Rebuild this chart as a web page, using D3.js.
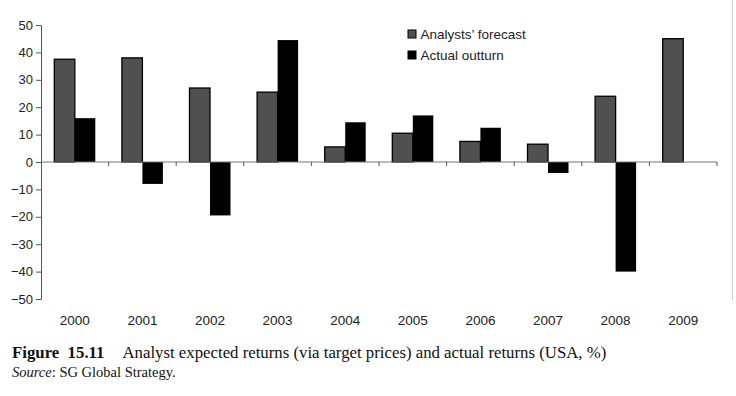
<!DOCTYPE html>
<html>
<head>
<meta charset="utf-8">
<script src="https://cdn.jsdelivr.net/npm/d3@7"></script>
<style>
  body { margin: 0; background: #fff; }
  svg { display: block; }
</style>
</head>
<body>
<svg id="chart"></svg>
<script>
const years = ["2000", "2001", "2002", "2003", "2004", "2005", "2006", "2007", "2008", "2009"];
const forecast = [37.5, 38, 27, 25.5, 5.5, 10.5, 7.5, 6.5, 24, 45];
const actual = [16, -8, -19.5, 44.5, 14.5, 17, 12.5, -4, -40, null];
const yTicks = [50, 40, 30, 20, 10, 0, -10, -20, -30, -40, -50];
const seriesNames = ["Analysts\u2019 forecast", "Actual outturn"];

const W = 736, H = 396;
const svg = d3.select("#chart").attr("width", W).attr("height", H);

const x = d3.scaleBand().domain(years).range([41, 717]);
const y = d3.scaleLinear().domain([-50, 50]).range([299, 25]);
const barW = 20.5;
const sans = "Liberation Sans, Arial, sans-serif";
const serif = "Liberation Serif, Times New Roman, serif";

const rows = years.map((yr, i) => ({ year: yr, f: forecast[i], a: actual[i] }));

// bars
svg.selectAll(".fc").data(rows).join("rect")
  .attr("class", "fc")
  .attr("x", d => x(d.year) + x.bandwidth() / 2 - barW)
  .attr("y", d => y(Math.max(0, d.f)))
  .attr("width", barW)
  .attr("height", d => Math.abs(y(d.f) - y(0)))
  .attr("fill", "#505050")
  .attr("stroke", "#000")
  .attr("stroke-width", 1.3);

svg.selectAll(".ac").data(rows.filter(d => d.a != null)).join("rect")
  .attr("class", "ac")
  .attr("x", d => x(d.year) + x.bandwidth() / 2)
  .attr("y", d => y(Math.max(0, d.a)))
  .attr("width", barW)
  .attr("height", d => Math.abs(y(d.a) - y(0)))
  .attr("fill", "#000");

// y axis
const yAxis = svg.append("g")
  .attr("transform", "translate(41,0)")
  .call(d3.axisLeft(y).tickValues(yTicks).tickSize(5).tickPadding(3).tickSizeOuter(0));
yAxis.select(".domain").attr("stroke", "#555");
yAxis.selectAll(".tick line").attr("stroke", "#555");
yAxis.selectAll("text")
  .attr("font-family", sans)
  .attr("font-size", 13)
  .attr("fill", "#222");

// zero line with category boundary ticks
svg.append("line")
  .attr("x1", 41).attr("x2", 717)
  .attr("y1", y(0)).attr("y2", y(0))
  .attr("stroke", "#777").attr("stroke-width", 1.2);
svg.selectAll(".xt").data(years).join("line")
  .attr("class", "xt")
  .attr("x1", d => x(d) + x.bandwidth()).attr("x2", d => x(d) + x.bandwidth())
  .attr("y1", y(0)).attr("y2", y(0) + 4)
  .attr("stroke", "#555");

// year labels
svg.selectAll(".yr").data(years).join("text")
  .attr("class", "yr")
  .attr("x", d => x(d) + x.bandwidth() / 2)
  .attr("y", 325)
  .attr("text-anchor", "middle")
  .attr("font-family", sans)
  .attr("font-size", 13.5)
  .attr("fill", "#222")
  .text(d => d);

// legend
const leg = svg.append("g").attr("transform", "translate(408,30)");
seriesNames.forEach((name, i) => {
  const g = leg.append("g").attr("transform", `translate(0,${i * 21})`);
  g.append("rect").attr("width", 8).attr("height", 8)
    .attr("fill", i === 0 ? "#505050" : "#000")
    .attr("stroke", "#000").attr("stroke-width", 1);
  g.append("text").attr("x", 12.5).attr("y", 8.5)
    .attr("font-family", sans)
    .attr("font-size", 13.5)
    .attr("fill", "#222")
    .text(name);
});

// right border line
svg.append("line")
  .attr("x1", 732.5).attr("x2", 732.5).attr("y1", 0).attr("y2", 300)
  .attr("stroke", "#ccc");

// caption
const cap = svg.append("text")
  .attr("x", 12).attr("y", 358)
  .attr("font-family", serif)
  .attr("font-size", 16.8)
  .attr("fill", "#111");
cap.append("tspan").attr("font-weight", "bold").text("Figure\u00a0\u00a015.11");
cap.append("tspan").attr("dx", 18).text("Analyst expected returns (via target prices) and actual returns (USA, %)");

const src = svg.append("text")
  .attr("x", 12).attr("y", 377)
  .attr("font-family", serif)
  .attr("font-size", 14.5)
  .attr("fill", "#111");
src.append("tspan").attr("font-style", "italic").text("Source");
src.append("tspan").text(": SG Global Strategy.");
</script>
</body>
</html>
